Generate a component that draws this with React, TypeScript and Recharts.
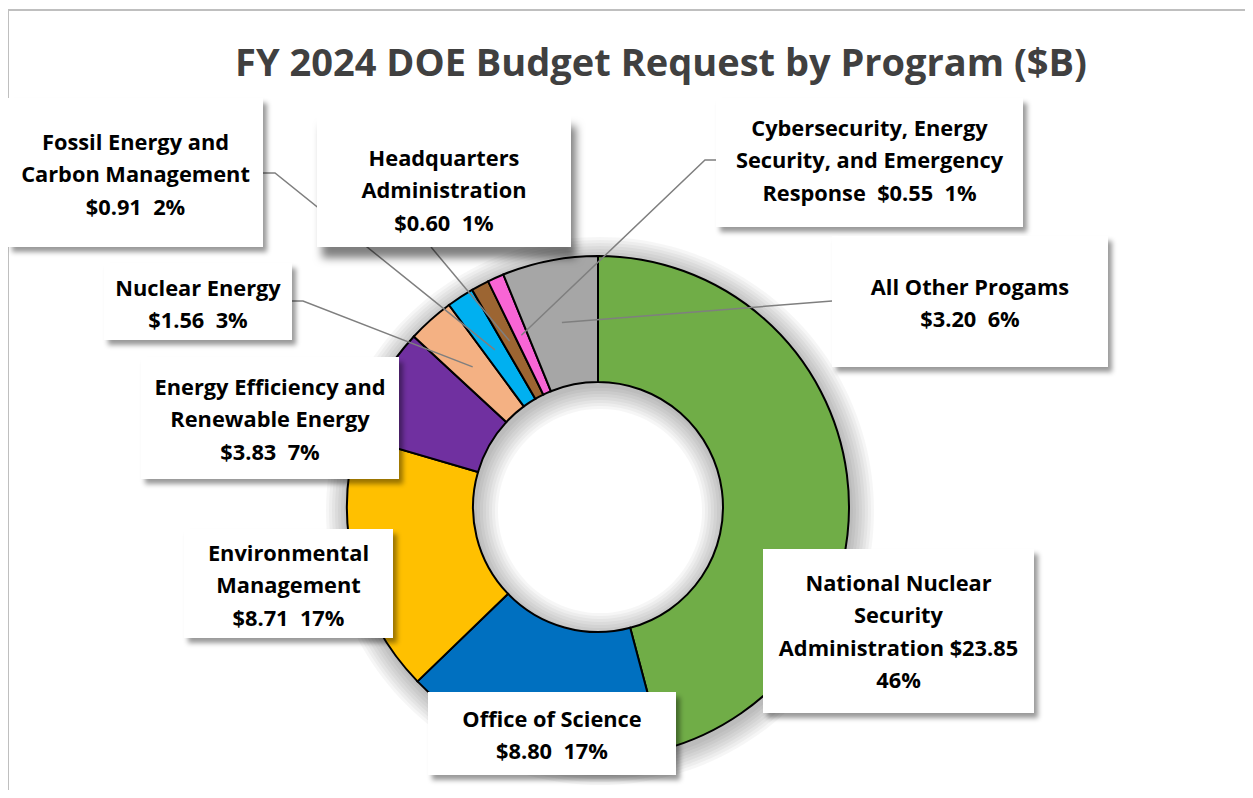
import React from "react";
import { PieChart, Pie, Cell } from "recharts";

// FY 2024 request, $B, clockwise from 12 o'clock
const programs = [
  "National Nuclear Security Administration",
  "Office of Science",
  "Environmental Management",
  "Energy Efficiency and Renewable Energy",
  "Nuclear Energy",
  "Fossil Energy and Carbon Management",
  "Headquarters Administration",
  "Cybersecurity, Energy Security, and Emergency Response",
  "All Other Progams",
];
const amounts = [23.85, 8.8, 8.71, 3.83, 1.56, 0.91, 0.6, 0.55, 3.2];
const colors = ["#70AD47", "#0070C0", "#FFC000", "#7030A0", "#F4B183", "#00B0F0", "#9C6532", "#F865D5", "#A6A6A6"];

// how each data label wraps; {v} = dollars, {p} = share
const labelLines = [
  ["National Nuclear", "Security", "Administration {v}", "{p}"],
  ["Office of Science", "{v}  {p}"],
  ["Environmental", "Management", "{v}  {p}"],
  ["Energy Efficiency and", "Renewable Energy", "{v}  {p}"],
  ["Nuclear Energy", "{v}  {p}"],
  ["Fossil Energy and", "Carbon Management", "{v}  {p}"],
  ["Headquarters", "Administration", "{v}  {p}"],
  ["Cybersecurity, Energy", "Security, and Emergency", "Response  {v}  {p}"],
  ["All Other Progams", "{v}  {p}"],
];

// label box placement (dragged by hand in the original)
const boxes = [
  { x: 763, y: 549, w: 271, h: 164, ty: 583 },
  { x: 428, y: 692, w: 248, h: 83, ty: 719 },
  { x: 184, y: 529, w: 209, h: 109, ty: 553 },
  { x: 141, y: 357, w: 258, h: 122, ty: 387 },
  { x: 104, y: 263, w: 188, h: 77, ty: 288 },
  { x: 8, y: 98, w: 255, h: 149, ty: 142 },
  { x: 317, y: 115, w: 254, h: 132, ty: 158, big: true },
  { x: 716, y: 98, w: 307, h: 129, ty: 128 },
  { x: 832, y: 236, w: 276, h: 131, ty: 287 },
];
// leader line start points at the box side
const leaders: (number[][] | null)[] = [
  null,
  null,
  null,
  null,
  [[292, 301], [303, 301]],
  [[263, 173], [275, 173]],
  [[431, 247]],
  [[716, 160], [705, 160]],
  [[832, 301]],
];

// soft shadow: thin translucent rings stacked under the donut [inner, outer]
const glow = [
  [123, 253],
  [120, 256],
  [117, 259],
  [114, 262],
  [111, 265],
  [108, 268],
  [105, 271],
  [102, 274],
];
const GLOW_ALPHA = 0.036;

const rows = programs.map((name, i) => ({ name, value: amounts[i] }));
const total = amounts.reduce((s, a) => s + a, 0);
const ringRow = [{ name: "total", value: total }];
const RAD = Math.PI / 180;
const FONT = "'Open Sans', Lato, sans-serif";
const CX = 598;
const CY = 507;

const renderLabel = (props: any) => {
  const { index, midAngle, innerRadius, outerRadius } = props;
  const cx = props.cx ?? CX;
  const cy = props.cy ?? CY;
  const b = boxes[index];
  const lead = leaders[index];
  const amt = amounts[index];
  const r = (innerRadius + outerRadius) / 2;
  const ax = cx + r * Math.cos(-midAngle * RAD);
  const ay = cy + r * Math.sin(-midAngle * RAD);
  const v = `$${amt.toFixed(2)}`;
  const p = `${Math.round((amt / total) * 100)}%`;
  const tx = b.x + b.w / 2;
  return (
    <g key={`lbl-${index}`}>
      {lead && (
        <polyline
          points={[...lead, [ax, ay]].map((q) => q.join(",")).join(" ")}
          fill="none"
          stroke="#7f7f7f"
          strokeWidth={1.5}
        />
      )}
      <rect x={b.x} y={b.y} width={b.w} height={b.h} fill="#fff" filter={b.big ? "url(#boxShadowBig)" : "url(#boxShadow)"} />
      <text textAnchor="middle" fontFamily={FONT} fontWeight={700} fontSize={21.8} fill="#000" style={{ whiteSpace: "pre" }}>
        {labelLines[index].map((ln, i) => (
          <tspan key={i} x={tx} y={b.ty + i * 32.5 + 7.5}>
            {ln.replace("{v}", v).replace("{p}", p)}
          </tspan>
        ))}
      </text>
    </g>
  );
};

export default function App() {
  return (
    <div style={{ position: "relative", width: 1253, height: 798, margin: -8, background: "#fff", overflow: "hidden" }}>
      <svg width={1253} height={798} style={{ position: "absolute", left: 0, top: 0 }}>
        <defs>
          <filter id="boxShadow" x="-20%" y="-20%" width="150%" height="160%">
            <feDropShadow dx="4" dy="5" stdDeviation="2.5" floodColor="#000" floodOpacity="0.4" />
          </filter>
          <filter id="boxShadowBig" x="-20%" y="-20%" width="150%" height="170%">
            <feDropShadow dx="5" dy="11" stdDeviation="4" floodColor="#000" floodOpacity="0.5" />
          </filter>
        </defs>
        <polyline points="1253,10 8,10 8,798" fill="none" stroke="#bfbfbf" strokeWidth={2} />
        <text x={661} y={76} textAnchor="middle" fontFamily={FONT} fontWeight={700} fontSize={38} fill="#404040">
          FY 2024 DOE Budget Request by Program ($B)
        </text>
      </svg>
      <div style={{ position: "absolute", left: 0, top: 0 }}>
        <PieChart width={1253} height={798} margin={{ top: 0, right: 0, bottom: 0, left: 0 }} style={{ background: "transparent" }}>
          {glow.map(([ir, or], k) => (
            <Pie
              key={`glow-${k}`}
              data={ringRow}
              dataKey="value"
              cx={CX + 2}
              cy={CY + 4}
              innerRadius={ir}
              outerRadius={or}
              startAngle={90}
              endAngle={-270}
              stroke="none"
              isAnimationActive={false}
            >
              <Cell fill="#000" fillOpacity={GLOW_ALPHA} stroke="none" />
            </Pie>
          ))}
          <Pie
            data={rows}
            dataKey="value"
            nameKey="name"
            cx={CX}
            cy={CY}
            innerRadius={125}
            outerRadius={251}
            startAngle={90}
            endAngle={-270}
            stroke="#000"
            strokeWidth={2}
            label={renderLabel}
            labelLine={false}
            isAnimationActive={false}
          >
            {rows.map((r, i) => (
              <Cell key={r.name} fill={colors[i]} />
            ))}
          </Pie>
        </PieChart>
      </div>
    </div>
  );
}
